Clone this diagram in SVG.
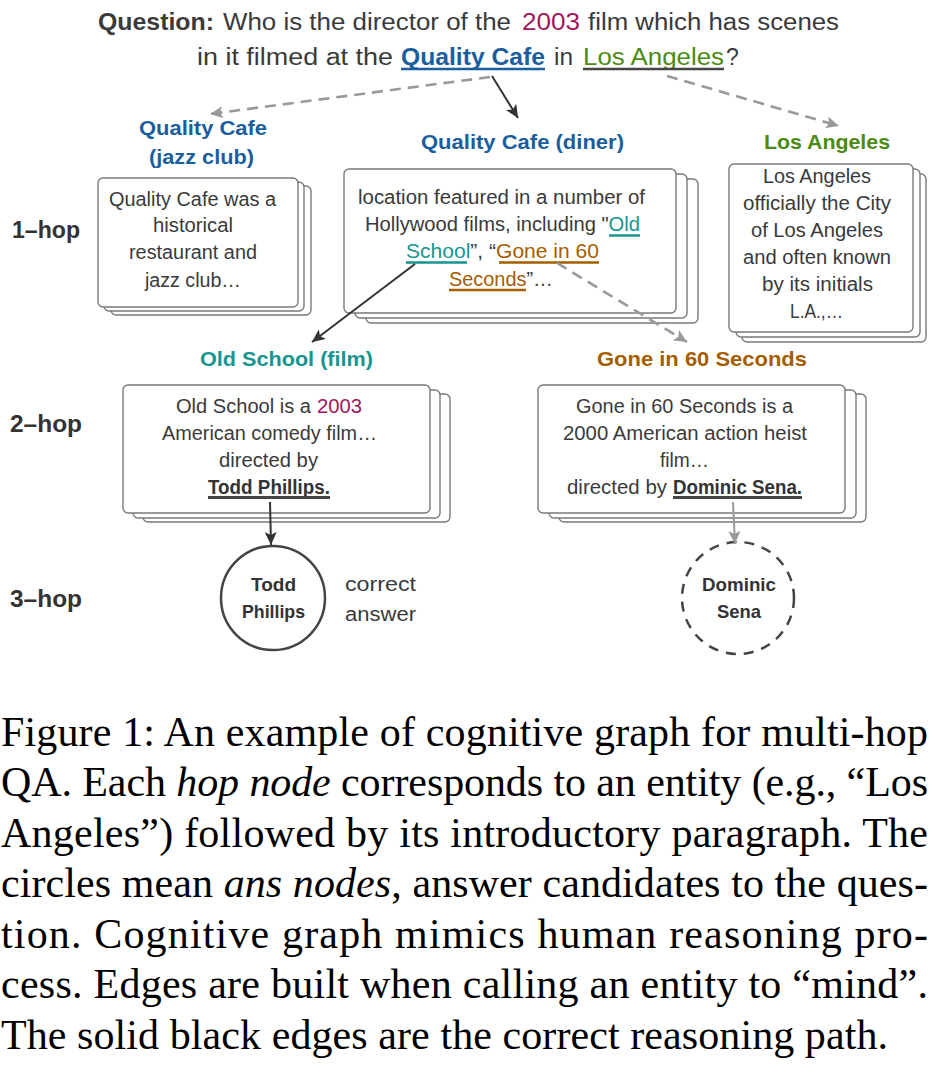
<svg xmlns="http://www.w3.org/2000/svg" width="942" height="1075" viewBox="0 0 942 1075">
<style>
text{font-family:"Liberation Sans","Noto Sans",Arial,sans-serif;fill:#3a3a3a}
.q{font-size:23px}
.lbl{font-size:21px;font-weight:bold}
.hop{font-size:23px;font-weight:bold;fill:#333}
.bt{font-size:19.5px}
.bb{font-size:19.5px;font-weight:bold;fill:#333}
.ct{font-size:18.5px;font-weight:bold;fill:#333}
.cap{font-family:"Liberation Serif","Times New Roman",serif;font-size:42px;fill:#000}
.blue{fill:#1b5e9e}.green{fill:#4b8b12}.teal{fill:#17958f}.brown{fill:#a55d00}.maroon{fill:#a0185c}
.card{fill:#fff;stroke:#7a7a7a;stroke-width:1.4}
.ul{stroke-width:2.5}
.solid{stroke:#333;stroke-width:2;fill:none}
.dash{stroke:#999;stroke-width:2.6;fill:none;stroke-dasharray:11 7}
.grey{stroke:#999;stroke-width:2;fill:none}
</style>
<defs>
<marker id="ah" markerUnits="userSpaceOnUse" markerWidth="14" markerHeight="12" refX="13" refY="6" orient="auto"><path d="M0,0 L13,6 L0,12 L3,6 z" fill="#333"/></marker>
<marker id="ahg" markerUnits="userSpaceOnUse" markerWidth="14" markerHeight="12" refX="13" refY="6" orient="auto"><path d="M0,0 L13,6 L0,12 L3,6 z" fill="#999"/></marker>
</defs>

<g id="question">
<text class="q" x="98" y="30" font-weight="bold" textLength="116" lengthAdjust="spacingAndGlyphs">Question:</text>
<text class="q" x="223" y="30" textLength="288" lengthAdjust="spacingAndGlyphs">Who is the director of the</text>
<text class="q maroon" x="522" y="30" textLength="58" lengthAdjust="spacingAndGlyphs">2003</text>
<text class="q" x="588" y="30" textLength="251" lengthAdjust="spacingAndGlyphs">film which has scenes</text>
<text class="q" x="197" y="65" textLength="196" lengthAdjust="spacingAndGlyphs">in it filmed at the</text>
<text class="q blue" x="401" y="65" font-weight="bold" textLength="144" lengthAdjust="spacingAndGlyphs">Quality Cafe</text>
<text class="q" x="554" y="65" textLength="19" lengthAdjust="spacingAndGlyphs">in</text>
<text class="q green" x="583" y="65" textLength="141" lengthAdjust="spacingAndGlyphs">Los Angeles</text>
<text class="q" x="726" y="65">?</text>
<line class="ul" x1="401" y1="69" x2="545" y2="69" stroke="#1b5e9e"/>
<line class="ul" x1="583" y1="69" x2="724" y2="69" stroke="#444"/>
</g>

<g id="hop-labels">
<text class="hop" x="12" y="238" textLength="68" lengthAdjust="spacingAndGlyphs">1–hop</text>
<text class="hop" x="10" y="432" textLength="72" lengthAdjust="spacingAndGlyphs">2–hop</text>
<text class="hop" x="10" y="607" textLength="72" lengthAdjust="spacingAndGlyphs">3–hop</text>
</g>

<g id="node-qc-jazz">
<text class="lbl blue" x="139" y="135" textLength="128" lengthAdjust="spacingAndGlyphs">Quality Cafe</text>
<text class="lbl blue" x="149" y="164" textLength="105" lengthAdjust="spacingAndGlyphs">(jazz club)</text>
<rect class="card" x="111" y="186" width="200" height="129" rx="5"/>
<rect class="card" x="104" y="182" width="200" height="129" rx="5"/>
<rect class="card" x="98" y="178" width="200" height="129" rx="5"/>
<text class="bt" x="109" y="205.5" textLength="167" lengthAdjust="spacingAndGlyphs">Quality Cafe was a</text>
<text class="bt" x="153" y="232" textLength="80" lengthAdjust="spacingAndGlyphs">historical</text>
<text class="bt" x="129" y="259" textLength="128" lengthAdjust="spacingAndGlyphs">restaurant and</text>
<text class="bt" x="145" y="286.5" textLength="96" lengthAdjust="spacingAndGlyphs">jazz club…</text>
</g>

<g id="node-qc-diner">
<text class="lbl blue" x="421" y="149" textLength="203" lengthAdjust="spacingAndGlyphs">Quality Cafe (diner)</text>
<rect class="card" x="366" y="179" width="332" height="144" rx="5"/>
<rect class="card" x="355" y="174" width="332" height="144" rx="5"/>
<rect class="card" x="344" y="169" width="332" height="144" rx="5"/>
<text class="bt" x="358" y="204" textLength="287" lengthAdjust="spacingAndGlyphs">location featured in a number of</text>
<text class="bt" x="365" y="231" textLength="275" lengthAdjust="spacingAndGlyphs">Hollywood films, including "<tspan class="teal">Old</tspan></text>
<text class="bt" x="406" y="258" textLength="193" lengthAdjust="spacingAndGlyphs"><tspan class="teal">School</tspan>”, “<tspan class="brown">Gone in 60</tspan></text>
<text class="bt" x="449" y="285.5" textLength="104" lengthAdjust="spacingAndGlyphs"><tspan class="brown">Seconds</tspan>”…</text>
<line class="ul" x1="609" y1="235.5" x2="640" y2="235.5" stroke="#17958f"/>
<line class="ul" x1="406" y1="262.5" x2="467" y2="262.5" stroke="#17958f"/>
<line class="ul" x1="499" y1="262.5" x2="599" y2="262.5" stroke="#a55d00"/>
<line class="ul" x1="449" y1="290" x2="526" y2="290" stroke="#a55d00"/>
</g>

<g id="node-la">
<text class="lbl green" x="764" y="149" textLength="126" lengthAdjust="spacingAndGlyphs">Los Angeles</text>
<rect class="card" x="742" y="174" width="184" height="168" rx="5"/>
<rect class="card" x="736" y="169" width="184" height="168" rx="5"/>
<rect class="card" x="729" y="164" width="184" height="168" rx="5"/>
<text class="bt" x="763" y="183" textLength="108" lengthAdjust="spacingAndGlyphs">Los Angeles</text>
<text class="bt" x="743" y="210" textLength="148" lengthAdjust="spacingAndGlyphs">officially the City</text>
<text class="bt" x="751" y="237" textLength="132" lengthAdjust="spacingAndGlyphs">of Los Angeles</text>
<text class="bt" x="743" y="264" textLength="148" lengthAdjust="spacingAndGlyphs">and often known</text>
<text class="bt" x="762" y="291" textLength="111" lengthAdjust="spacingAndGlyphs">by its initials</text>
<text class="bt" x="790" y="318" textLength="53" lengthAdjust="spacingAndGlyphs">L.A.,…</text>
</g>

<g id="node-oldschool">
<text class="lbl teal" x="200" y="366" textLength="173" lengthAdjust="spacingAndGlyphs">Old School (film)</text>
<rect class="card" x="143" y="394" width="307" height="128" rx="5"/>
<rect class="card" x="133" y="390" width="307" height="128" rx="5"/>
<rect class="card" x="123" y="385" width="307" height="128" rx="5"/>
<text class="bt" x="176" y="412.5" textLength="135" lengthAdjust="spacingAndGlyphs">Old School is a</text>
<text class="bt maroon" x="317" y="412.5" textLength="45" lengthAdjust="spacingAndGlyphs">2003</text>
<text class="bt" x="162" y="440" textLength="215" lengthAdjust="spacingAndGlyphs">American comedy film…</text>
<text class="bt" x="219" y="467" textLength="99" lengthAdjust="spacingAndGlyphs">directed by</text>
<text class="bb" x="208" y="493.5" textLength="122" lengthAdjust="spacingAndGlyphs">Todd Phillips.</text>
<line x1="208" y1="497.5" x2="330" y2="497.5" stroke="#444" stroke-width="3"/>
</g>

<g id="node-gone">
<text class="lbl brown" x="597" y="366" textLength="210" lengthAdjust="spacingAndGlyphs">Gone in 60 Seconds</text>
<rect class="card" x="559" y="394" width="307" height="128" rx="5"/>
<rect class="card" x="549" y="390" width="307" height="128" rx="5"/>
<rect class="card" x="538" y="385" width="307" height="128" rx="5"/>
<text class="bt" x="576" y="412.5" textLength="217" lengthAdjust="spacingAndGlyphs">Gone in 60 Seconds is a</text>
<text class="bt" x="563" y="440" textLength="244" lengthAdjust="spacingAndGlyphs">2000 American action heist</text>
<text class="bt" x="660" y="467" textLength="49" lengthAdjust="spacingAndGlyphs">film…</text>
<text class="bt" x="567" y="493.5" textLength="100" lengthAdjust="spacingAndGlyphs">directed by</text>
<text class="bb" x="673" y="493.5" textLength="129" lengthAdjust="spacingAndGlyphs">Dominic Sena.</text>
<line x1="673" y1="497.5" x2="802" y2="497.5" stroke="#444" stroke-width="3"/>
</g>

<g id="node-todd">
<circle cx="273" cy="598" r="52" fill="#fff" stroke="#444" stroke-width="2.5"/>
<text class="ct" x="251" y="591" textLength="45" lengthAdjust="spacingAndGlyphs">Todd</text>
<text class="ct" x="242" y="618" textLength="63" lengthAdjust="spacingAndGlyphs">Phillips</text>
<text class="bt" x="345" y="591" textLength="71" lengthAdjust="spacingAndGlyphs">correct</text>
<text class="bt" x="345" y="621" textLength="71" lengthAdjust="spacingAndGlyphs">answer</text>
</g>

<g id="node-dominic">
<circle cx="738" cy="598" r="56" fill="#fff" stroke="#444" stroke-width="2.5" stroke-dasharray="10 8"/>
<text class="ct" x="702" y="591" textLength="74" lengthAdjust="spacingAndGlyphs">Dominic</text>
<text class="ct" x="717" y="618" textLength="44" lengthAdjust="spacingAndGlyphs">Sena</text>
</g>

<g id="connectors">
<line class="dash" x1="490" y1="77" x2="210" y2="114" marker-end="url(#ahg)"/>
<line class="solid" x1="492" y1="76" x2="518" y2="118" marker-end="url(#ah)"/>
<line class="dash" x1="667" y1="76" x2="839" y2="126" marker-end="url(#ahg)"/>
<line class="solid" x1="415" y1="264" x2="312" y2="342" marker-end="url(#ah)"/>
<line class="dash" x1="557" y1="263" x2="687" y2="342" marker-end="url(#ahg)"/>
<line class="solid" x1="270" y1="502" x2="271" y2="545" marker-end="url(#ah)"/>
<line class="grey" x1="733" y1="502" x2="735" y2="544" marker-end="url(#ahg)"/>
</g>

<g id="caption">
<text class="cap" x="1" y="746" textLength="927" lengthAdjust="spacing">Figure 1: An example of cognitive graph for multi-hop</text>
<text class="cap" x="1" y="796" textLength="927" lengthAdjust="spacing">QA. Each <tspan font-style="italic">hop node</tspan> corresponds to an entity (e.g., “Los</text>
<text class="cap" x="1" y="847" textLength="927" lengthAdjust="spacing">Angeles”) followed by its introductory paragraph. The</text>
<text class="cap" x="1" y="897" textLength="927" lengthAdjust="spacing">circles mean <tspan font-style="italic">ans nodes</tspan>, answer candidates to the ques-</text>
<text class="cap" x="1" y="948" textLength="927" lengthAdjust="spacing">tion.  Cognitive graph mimics human reasoning pro-</text>
<text class="cap" x="1" y="998" textLength="927" lengthAdjust="spacing">cess. Edges are built when calling an entity to “mind”.</text>
<text class="cap" x="1" y="1049" textLength="887" lengthAdjust="spacing">The solid black edges are the correct reasoning path.</text>
</g>
</svg>
